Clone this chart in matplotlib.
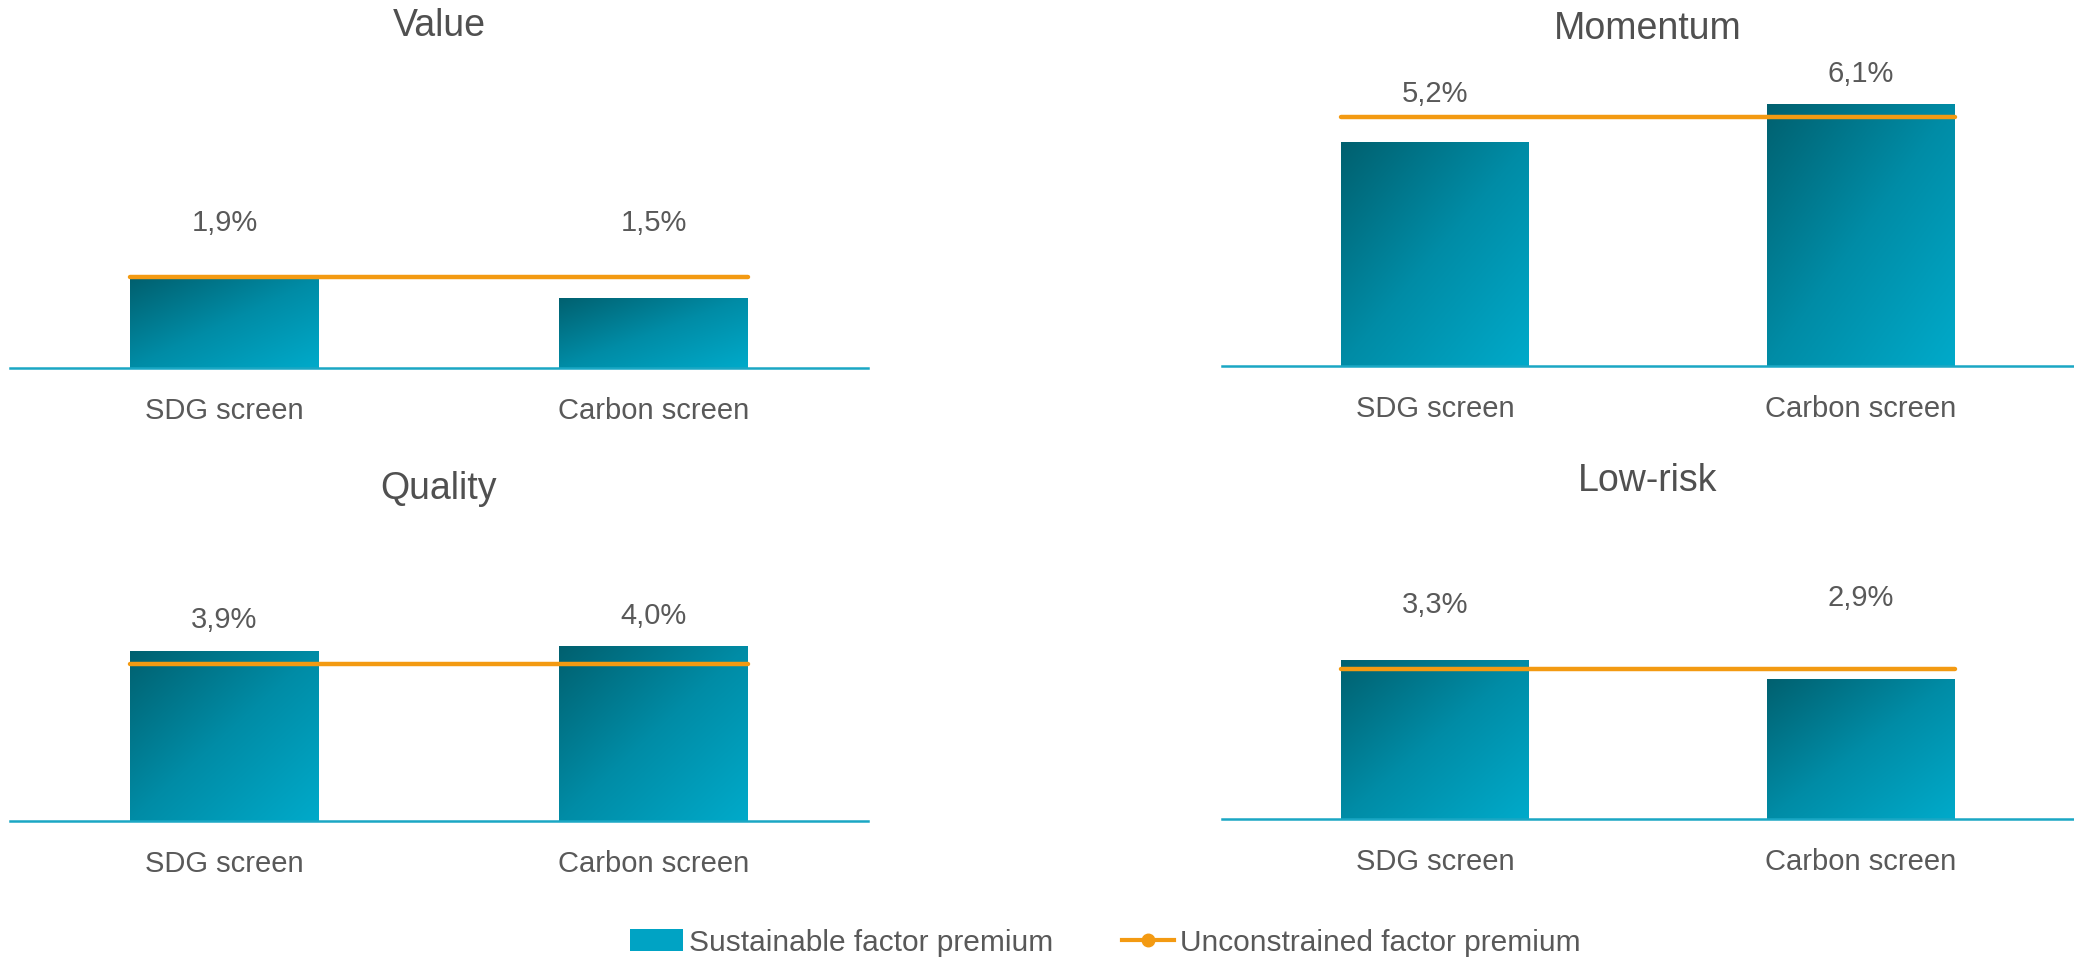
import matplotlib
matplotlib.use("Agg")
import matplotlib.pyplot as plt
import numpy as np
from matplotlib.colors import LinearSegmentedColormap
from matplotlib.lines import Line2D
from matplotlib.patches import Patch

# ---- data (percent) ----
FACTORS = ["Value", "Momentum", "Quality", "Low-risk"]
SCREENS = ["SDG screen", "Carbon screen"]
SDG_SCREEN = [1.9, 5.2, 3.9, 3.3]
CARBON_SCREEN = [1.5, 6.1, 4.0, 2.9]
UNCONSTRAINED = [1.95, 5.8, 3.6, 3.1]

# ---- style ----
W, H = 2074, 959
TEXT = "#595959"
TEAL = "#00A3C4"
AXIS = "#1AA7C4"
ORANGE = "#F39A12"
FONT = ["Liberation Sans", "DejaVu Sans"]
grad_cmap = LinearSegmentedColormap.from_list("teal", ["#00606F", "#008CA6", "#00AACA"])

# per panel layout in pixels: left, right, baseline y (from top), px per %, title y
LAYOUT = [
    (10, 868, 368, 46.7, 26),
    (1222, 2074, 366, 43.0, 29),
    (10, 868, 821, 43.7, 489),
    (1222, 2074, 819, 48.3, 481),
]
# extra lift (px) of value labels above the taller of bar / line
LABEL_LIFT = [(54, 54), (23, 30), (31, 30), (55, 71)]
BAR_W = 0.44

plt.rcParams["font.family"] = FONT


def gradient_bar(ax, bar):
    x0, w, h = bar.get_x(), bar.get_width(), bar.get_height()
    n = 200
    i, j = np.mgrid[0:n, 0:n]
    grad = (i + j) / (2 * (n - 1))
    img = ax.imshow(grad, extent=(x0, x0 + w, 0, h), cmap=grad_cmap,
                    origin="upper", aspect="auto", zorder=2, interpolation="bilinear")
    img.set_clip_path(bar)


fig = plt.figure(figsize=(W / 100, H / 100), dpi=100)

for k, name in enumerate(FACTORS):
    left, right, base, ppp, title_y = LAYOUT[k]
    top = base - 330
    ax = fig.add_axes([left / W, 1 - base / H, (right - left) / W, (base - top) / H])
    vals = [SDG_SCREEN[k], CARBON_SCREEN[k]]
    x = np.arange(len(SCREENS))
    bars = ax.bar(x, vals, width=BAR_W, color="none", edgecolor="none", zorder=2)
    for b in bars:
        gradient_bar(ax, b)
    ax.hlines(UNCONSTRAINED[k], x[0] - BAR_W / 2, x[-1] + BAR_W / 2,
              color=ORANGE, lw=3.2, zorder=3, capstyle="round")
    for xi, v, lift in zip(x, vals, LABEL_LIFT[k]):
        ax.annotate(f"{v:.1f}%".replace(".", ","), (xi, max(v, UNCONSTRAINED[k])),
                    xytext=(0, lift), textcoords="offset pixels",
                    ha="center", va="center", fontsize=21, color=TEXT)
    ax.set_xlim(-0.5, 1.5)
    ax.set_ylim(0, (base - top) / ppp)
    ax.set_yticks([])
    ax.set_xticks(x, SCREENS)
    ax.tick_params(axis="x", length=0, pad=31, labelsize=21, labelcolor=TEXT)
    plt.setp(ax.get_xticklabels(), va="center")
    for s in ("top", "right", "left"):
        ax.spines[s].set_visible(False)
    ax.spines["bottom"].set_color(AXIS)
    ax.spines["bottom"].set_linewidth(1.8)
    ax.patch.set_alpha(0)
    fig.text((left + right) / 2 / W, 1 - title_y / H, name, ha="center", va="center",
             fontsize=27, color="#505050")

handles = [
    Patch(facecolor=TEAL, edgecolor="none"),
    Line2D([], [], color=ORANGE, lw=3, marker="o", markersize=9),
]
fig.legend(handles, ["Sustainable factor premium", "Unconstrained factor premium"],
           loc="center", bbox_to_anchor=(0.533, 0.017), ncol=2, frameon=False,
           fontsize=21.5, labelcolor=TEXT, handlelength=1.75, handleheight=0.75,
           handletextpad=0.2, columnspacing=2.3)

fig.savefig("out.png", dpi=100, facecolor="white")
